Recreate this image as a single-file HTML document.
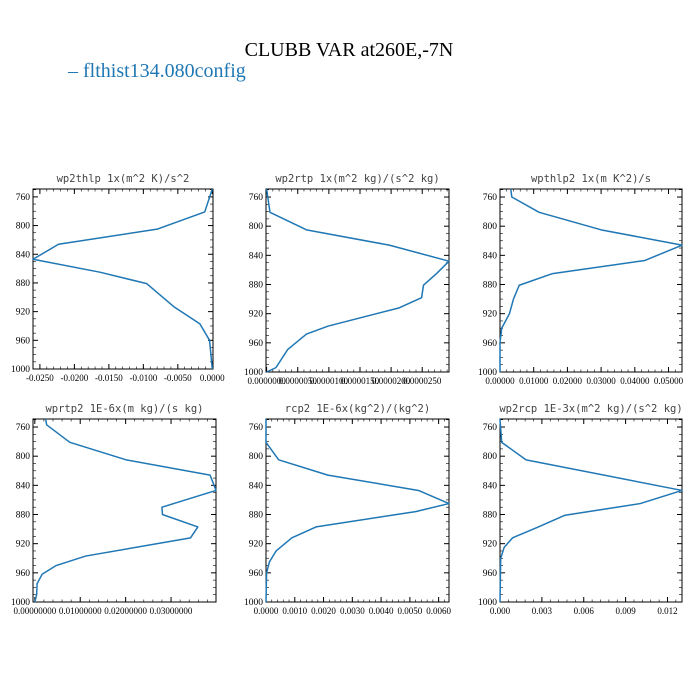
<!DOCTYPE html>
<html><head><meta charset="utf-8"><style>
html,body{margin:0;padding:0;background:#fff;}
svg{display:block;}
</style></head><body>
<svg id="chart" width="700" height="700" viewBox="0 0 700 700" xmlns="http://www.w3.org/2000/svg">
<rect width="700" height="700" fill="#fff"/>
<text x="349" y="56" text-anchor="middle" font-family="Liberation Serif, serif" font-size="20" fill="#000">CLUBB VAR at260E,-7N</text>
<g>
<text x="68" y="77" font-family="Liberation Serif, serif" font-size="20" fill="#1f77b4">– flthist134.080config</text>
</g>
</svg>
<script>
// shared pressure axis ticks
const yTicks = [760, 800, 840, 880, 920, 960, 1000];
const yDomain = [749, 1000];

// panel 1: wp2thlp
const p1Pressure = [749, 781, 805, 826, 847, 865, 881, 913, 937, 960, 1000];
const p1Values = [0.0000, -0.0011, -0.0080, -0.0223, -0.0260, -0.0163, -0.0095, -0.0056, -0.0018, -0.0004, 0.0000];
const p1Ticks = [-0.025, -0.02, -0.015, -0.01, -0.005, 0];
const p1TickLabels = ["-0.0250", "-0.0200", "-0.0150", "-0.0100", "-0.0050", "0.0000"];

// panel 2: wp2rtp
const p2Pressure = [749, 781, 805, 826, 848, 865, 881, 898, 912, 937, 948, 969, 994, 1000];
const p2Values = [0, 0.54e-6, 6.4e-6, 19.7e-6, 29.3e-6, 27.3e-6, 25.2e-6, 24.9e-6, 21.3e-6, 9.9e-6, 6.4e-6, 3.4e-6, 1.5e-6, 0];
const p2Ticks = [0, 5e-6, 10e-6, 15e-6, 20e-6, 25e-6];
const p2TickLabels = ["0.0000000", "0.0000050", "0.0000100", "0.0000150", "0.0000200", "0.0000250"];

// panel 3: wpthlp2
const p3Pressure = [749, 760, 781, 805, 826, 847, 865, 881, 900, 920, 940, 960, 1000];
const p3Values = [0.0032, 0.0035, 0.0116, 0.0300, 0.0540, 0.0430, 0.0156, 0.0057, 0.0040, 0.0028, 0.0005, 0, 0];
const p3Ticks = [0, 0.01, 0.02, 0.03, 0.04, 0.05];
const p3TickLabels = ["0.00000", "0.01000", "0.02000", "0.03000", "0.04000", "0.05000"];

// panel 4: wprtp2
const p4Pressure = [749, 757, 781, 805, 826, 847, 870, 880, 897, 912, 937, 950, 962, 975, 990, 1000];
const p4Values = [0.0024, 0.0026, 0.0077, 0.0201, 0.0386, 0.0399, 0.0280, 0.0281, 0.0359, 0.0343, 0.0112, 0.0047, 0.0016, 0.0005, 0.0004, 0.0000];
const p4Ticks = [0, 0.01, 0.02, 0.03];
const p4TickLabels = ["0.00000000", "0.01000000", "0.02000000", "0.03000000"];

// panel 5: rcp2
const p5Pressure = [749, 781, 805, 826, 847, 865, 876, 897, 912, 930, 945, 960, 1000];
const p5Values = [0, 0, 0.00044, 0.00215, 0.0053, 0.00636, 0.0052, 0.00174, 0.0009, 0.00035, 0.00012, 0.00002, 0];
const p5Ticks = [0, 0.001, 0.002, 0.003, 0.004, 0.005, 0.006];
const p5TickLabels = ["0.0000", "0.0010", "0.0020", "0.0030", "0.0040", "0.0050", "0.0060"];

// panel 6: wp2rcp
const p6Pressure = [749, 781, 805, 847, 865, 881, 897, 912, 925, 940, 1000];
const p6Values = [0, 0.00012, 0.00187, 0.01304, 0.01005, 0.00466, 0.00275, 0.0009, 0.0003, 0.00005, 0];
const p6Ticks = [0, 0.003, 0.006, 0.009, 0.012];
const p6TickLabels = ["0.000", "0.003", "0.006", "0.009", "0.012"];

const NS = "http://www.w3.org/2000/svg";
const svg = document.getElementById("chart");

function mk(tag, attrs, parent) {
  const e = document.createElementNS(NS, tag);
  for (const k in attrs) e.setAttribute(k, attrs[k]);
  parent.appendChild(e);
  return e;
}

function panel(cfg) {
  const g = mk("g", {}, svg);
  
  
  const L = cfg.box[0], R = cfg.box[1], T = cfg.box[2], B = cfg.box[3];
  const xs = v => L + (v - cfg.xDomain[0]) / (cfg.xDomain[1] - cfg.xDomain[0]) * (R - L);
  const ys = p => T + (p - yDomain[0]) / (yDomain[1] - yDomain[0]) * (B - T);

  const title = mk("text", {x: (L + R) / 2, y: T - 7, "text-anchor": "middle", "font-family": "DejaVu Sans Mono, Liberation Mono, monospace", "font-size": "10.5", fill: "#444"}, g);
  title.textContent = cfg.title;
  
  

  // minor y ticks
  for (let p = 750; p <= 1000; p += 10) {
    const y = ys(p);
    const major = (p - 760) % 40 === 0;
    const len = major ? 5 : 3;
    mk("line", {x1: L, x2: L + len, y1: y, y2: y, stroke: "#000", "stroke-width": major ? 1 : 0.6}, g);
    mk("line", {x1: R, x2: R - len, y1: y, y2: y, stroke: "#000", "stroke-width": major ? 1 : 0.6}, g);
  }
  yTicks.forEach(p => {
    const t = mk("text", {x: L - 3, y: ys(p) + 3, "text-anchor": "end", "font-family": "Liberation Serif, serif", "font-size": "9.5", fill: "#000"}, g);
    t.textContent = String(p);
    
    
  });
  // x ticks
  const step = cfg.xTicks.length > 1 ? cfg.xTicks[1] - cfg.xTicks[0] : 1;
  const minor = step / 5;
  for (let v = cfg.xTicks[0] - 5 * minor; v <= cfg.xDomain[1] + 1e-12; v += minor) {
    if (v < cfg.xDomain[0] - 1e-12) continue;
    const x = xs(v);
    mk("line", {x1: x, x2: x, y1: B, y2: B - 2.5, stroke: "#000", "stroke-width": 0.6}, g);
    mk("line", {x1: x, x2: x, y1: T, y2: T + 2.5, stroke: "#000", "stroke-width": 0.6}, g);
  }
  cfg.xTicks.forEach((v, i) => {
    const x = xs(v);
    mk("line", {x1: x, x2: x, y1: B, y2: B - 5, stroke: "#000", "stroke-width": 1}, g);
    mk("line", {x1: x, x2: x, y1: T, y2: T + 5, stroke: "#000", "stroke-width": 1}, g);
    const t = mk("text", {x: x, y: B + 12, "text-anchor": "middle", "font-family": "Liberation Serif, serif", "font-size": "9", fill: "#000"}, g);
    t.textContent = cfg.xLabels[i];
    
    
  });
  const frame = mk("rect", {x: L, y: T, width: R - L, height: B - T, fill: "none", stroke: "#000", "stroke-width": 1}, g);
  
  

  const pts = cfg.pres.map((p, i) => xs(cfg.vals[i]).toFixed(2) + "," + ys(p).toFixed(2)).join(" ");
  const line = mk("polyline", {points: pts, fill: "none", stroke: "#1f77b4", "stroke-width": 1.5, "stroke-linejoin": "round"}, g);
  
  
}

panel({name: "panel-wp2thlp", title: "wp2thlp  1x(m^2 K)/s^2", box: [33, 213, 189, 369], xDomain: [-0.0260, 0.0001], xTicks: p1Ticks, xLabels: p1TickLabels, pres: p1Pressure, vals: p1Values});
panel({name: "panel-wp2rtp", title: "wp2rtp  1x(m^2 kg)/(s^2 kg)", box: [266, 449, 189, 372], xDomain: [-0.0000001, 0.0000293], xTicks: p2Ticks, xLabels: p2TickLabels, pres: p2Pressure, vals: p2Values});
panel({name: "panel-wpthlp2", title: "wpthlp2  1x(m K^2)/s", box: [500, 682, 189, 372], xDomain: [0, 0.054], xTicks: p3Ticks, xLabels: p3TickLabels, pres: p3Pressure, vals: p3Values});
panel({name: "panel-wprtp2", title: "wprtp2  1E-6x(m kg)/(s kg)", box: [33, 216, 419, 602], xDomain: [-0.0004, 0.0399], xTicks: p4Ticks, xLabels: p4TickLabels, pres: p4Pressure, vals: p4Values});
panel({name: "panel-rcp2", title: "rcp2  1E-6x(kg^2)/(kg^2)", box: [266, 449, 419, 602], xDomain: [0, 0.00636], xTicks: p5Ticks, xLabels: p5TickLabels, pres: p5Pressure, vals: p5Values});
panel({name: "panel-wp2rcp", title: "wp2rcp  1E-3x(m^2 kg)/(s^2 kg)", box: [500, 682, 419, 602], xDomain: [0, 0.01304], xTicks: p6Ticks, xLabels: p6TickLabels, pres: p6Pressure, vals: p6Values});
</script>
</body></html>
